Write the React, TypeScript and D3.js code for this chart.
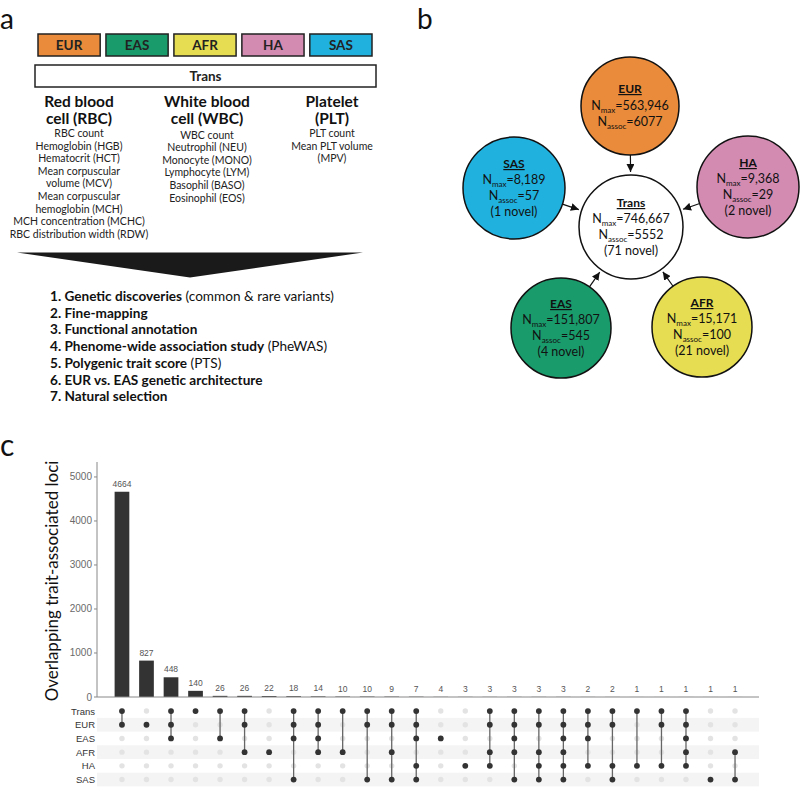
import React from "react";
import * as d3 from "d3";

// ---------- Panel a data ----------
const populations = ["EUR", "EAS", "AFR", "HA", "SAS"];
const populationColors = ["#E98B3A", "#1A9B6C", "#E7DD52", "#D38BB2", "#20B1DF"];
const groupTitles = [
  ["Red blood", "cell (RBC)"],
  ["White blood", "cell (WBC)"],
  ["Platelet", "(PLT)"],
];
const rbcTraits = [
  "RBC count",
  "Hemoglobin (HGB)",
  "Hematocrit (HCT)",
  "Mean corpuscular",
  "volume (MCV)",
  "Mean corpuscular",
  "hemoglobin (MCH)",
  "MCH concentration (MCHC)",
  "RBC distribution width (RDW)",
];
const wbcTraits = [
  "WBC count",
  "Neutrophil (NEU)",
  "Monocyte (MONO)",
  "Lymphocyte (LYM)",
  "Basophil (BASO)",
  "Eosinophil (EOS)",
];
const pltTraits = ["PLT count", "Mean PLT volume", "(MPV)"];
const analysesBold = [
  "1. Genetic discoveries",
  "2. Fine-mapping",
  "3. Functional annotation",
  "4. Phenome-wide association study",
  "5. Polygenic trait score",
  "6. EUR vs. EAS genetic architecture",
  "7. Natural selection",
];
const analysesExtra = [" (common & rare variants)", "", "", " (PheWAS)", " (PTS)", "", ""];

// ---------- Panel b data ----------
const cohortNames = ["EUR", "SAS", "HA", "Trans", "EAS", "AFR"];
const cohortColors = ["#E98B3A", "#20B1DF", "#D38BB2", "#FFFFFF", "#1A9B6C", "#E7DD52"];
const cohortNmax = ["563,946", "8,189", "9,368", "746,667", "151,807", "15,171"];
const cohortNassoc = ["6077", "57", "29", "5552", "545", "100"];
const cohortNovel = ["", "(1 novel)", "(2 novel)", "(71 novel)", "(4 novel)", "(21 novel)"];

// ---------- Panel c data ----------
const sets = ["Trans", "EUR", "EAS", "AFR", "HA", "SAS"];
const intersectionCounts = [4664, 827, 448, 140, 26, 26, 22, 18, 14, 10, 10, 9, 7, 4, 3, 3, 3, 3, 3, 2, 2, 1, 1, 1, 1, 1];
const intersectionMembers = [
  ["Trans", "EUR"],
  ["EUR"],
  ["Trans", "EUR", "EAS"],
  ["Trans"],
  ["Trans", "EAS"],
  ["Trans", "EUR", "AFR"],
  ["AFR"],
  ["Trans", "EUR", "EAS", "SAS"],
  ["Trans", "EUR", "EAS", "AFR"],
  ["Trans", "AFR"],
  ["Trans", "EUR", "SAS"],
  ["Trans", "EUR", "AFR", "SAS"],
  ["Trans", "EUR", "EAS", "HA", "SAS"],
  ["EAS"],
  ["HA"],
  ["Trans", "EUR", "AFR", "HA"],
  ["Trans", "EUR", "EAS", "AFR", "SAS"],
  ["Trans", "EUR", "AFR", "HA", "SAS"],
  ["Trans", "EUR", "EAS", "AFR", "HA", "SAS"],
  ["Trans", "EUR", "EAS", "HA"],
  ["Trans", "EUR", "HA", "SAS"],
  ["Trans", "HA"],
  ["Trans", "EUR", "HA"],
  ["Trans", "EUR", "EAS", "AFR", "HA"],
  ["SAS"],
  ["AFR", "SAS"],
];
const yTicks = [0, 1000, 2000, 3000, 4000, 5000];

const FONT = "Lato, 'Open Sans', sans-serif";
const CFONT = "'Liberation Sans', Arial, sans-serif";

function PanelA() {
  const xBox = d3.scaleBand<string>().domain(populations).range([38, 372]).paddingInner(0.085);
  const groupX = [79, 207, 332];
  const groupLists = [rbcTraits, wbcTraits, pltTraits];
  const lineY = d3.scaleLinear().domain([0, 1]).range([137, 149.6]);
  const listY = d3.scaleLinear().domain([0, 1]).range([301, 317.7]);
  return (
    <g fontFamily={FONT}>
      <text x={0} y={29} fontSize={28} fill="#111">a</text>
      {populations.map((p, i) => (
        <g key={p}>
          <rect x={xBox(p)} y={34} width={xBox.bandwidth()} height={22} fill={populationColors[i]} stroke="#222" strokeWidth={1.5} />
          <text x={(xBox(p) as number) + xBox.bandwidth() / 2} y={50} textAnchor="middle" fontSize={13.5} fontWeight="bold" fill="#222">{p}</text>
        </g>
      ))}
      <rect x={35} y={65} width={341} height={22} fill="#fff" stroke="#222" strokeWidth={1.5} />
      <text x={205.5} y={81} textAnchor="middle" fontSize={13.5} fontWeight="bold" fill="#222">Trans</text>
      {groupTitles.map((t, gi) => (
        <g key={gi}>
          <text x={groupX[gi]} y={107} textAnchor="middle" fontSize={15.5} fontWeight="bold" fill="#111">{t[0]}</text>
          <text x={groupX[gi]} y={124} textAnchor="middle" fontSize={15.5} fontWeight="bold" fill="#111">{t[1]}</text>
          {groupLists[gi].map((s, i) => (
            <text key={i} x={groupX[gi]} y={lineY(i) + (gi === 1 ? 1.5 : 0)} textAnchor="middle" fontSize={10.5} fill="#222">{s}</text>
          ))}
        </g>
      ))}
      <polygon points="17,252.5 363,252.5 190,277.5" fill="#1a1a1a" />
      {analysesBold.map((b, i) => (
        <text key={i} x={50} y={listY(i)} fontSize={13.6} fill="#111">
          <tspan fontWeight="bold">{b}</tspan>
          <tspan>{analysesExtra[i]}</tspan>
        </text>
      ))}
    </g>
  );
}

function PanelB() {
  const centers: [number, number][] = [
    [630, 106],
    [514, 188],
    [748, 187],
    [631, 227],
    [561, 328],
    [702, 327],
  ];
  const radii = [49, 51, 51, 52, 50, 50];
  const trans = centers[3];
  const arrows = [0, 1, 2, 4, 5].map((i) => {
    const [cx, cy] = centers[i];
    const dx = trans[0] - cx;
    const dy = trans[1] - cy;
    const L = Math.sqrt(dx * dx + dy * dy);
    const ux = dx / L, uy = dy / L;
    return {
      x1: cx + ux * radii[i],
      y1: cy + uy * radii[i],
      x2: trans[0] - ux * (radii[3] + 3),
      y2: trans[1] - uy * (radii[3] + 3),
    };
  });
  return (
    <g fontFamily={FONT}>
      <defs>
        <marker id="arrowhead" viewBox="0 0 10 10" refX={10} refY={5} markerWidth={8} markerHeight={8} markerUnits="userSpaceOnUse" orient="auto">
          <path d="M0,0 L10,5 L0,10 Z" fill="#111" />
        </marker>
      </defs>
      <text x={417} y={29} fontSize={28} fill="#111">b</text>
      {arrows.map((a, i) => (
        <line key={i} x1={a.x1} y1={a.y1} x2={a.x2} y2={a.y2} stroke="#111" strokeWidth={1.2} markerEnd="url(#arrowhead)" />
      ))}
      {cohortNames.map((n, i) => {
        const [cx, cy] = centers[i];
        const hasNovel = cohortNovel[i] !== "";
        const base = hasNovel ? [-20, -4, 12, 28] : [-13, 4, 20];
        return (
          <g key={n}>
            <circle cx={cx} cy={cy} r={radii[i]} fill={cohortColors[i]} stroke="#111" strokeWidth={1.5} />
            <text x={cx} y={cy + base[0]} textAnchor="middle" fontSize={12} fontWeight="bold" textDecoration="underline" fill="#111">{n}</text>
            <text x={cx} y={cy + base[1]} textAnchor="middle" fontSize={12.5} fill="#111">
              N<tspan fontSize={8} dy={3}>max</tspan><tspan dy={-3}>={cohortNmax[i]}</tspan>
            </text>
            <text x={cx} y={cy + base[2]} textAnchor="middle" fontSize={12.5} fill="#111">
              N<tspan fontSize={8} dy={3}>assoc</tspan><tspan dy={-3}>={cohortNassoc[i]}</tspan>
            </text>
            {hasNovel && (
              <text x={cx} y={cy + base[3]} textAnchor="middle" fontSize={12.5} fill="#111">{cohortNovel[i]}</text>
            )}
          </g>
        );
      })}
    </g>
  );
}

function PanelC() {
  const ids = intersectionCounts.map((_, i) => String(i));
  const x = d3.scaleBand<string>().domain(ids).range([104.8, 752.2]).padding(0.4);
  const y = d3.scaleLinear().domain([0, 5340]).range([697, 462]);
  const row = d3.scaleBand<string>().domain(sets).range([704.2, 786.4]);
  const cx = (i: number) => (x(String(i)) as number) + x.bandwidth() / 2;
  const cy = (s: string) => (row(s) as number) + row.bandwidth() / 2;
  return (
    <g>
      <text x={0} y={456} fontSize={30} fontFamily={FONT} fill="#111">c</text>
      <text transform={`translate(58,${(462 + 700) / 2}) rotate(-90)`} textAnchor="middle" fontSize={17} fontFamily={FONT} fill="#111">
        Overlapping trait-associated loci
      </text>
      {/* y axis */}
      <line x1={97} x2={97} y1={y.range()[1]} y2={697} stroke="#888" strokeWidth={1} />
      {yTicks.map((t) => (
        <g key={t}>
          <line x1={94} x2={97} y1={y(t)} y2={y(t)} stroke="#888" />
          <text x={92} y={y(t) + 3.5} textAnchor="end" fontSize={10} fontFamily={CFONT} fill="#6a6a6a">{t}</text>
        </g>
      ))}
      {/* bars */}
      {intersectionCounts.map((v, i) => (
        <g key={i}>
          <rect x={x(String(i))} y={y(v)} width={x.bandwidth()} height={697 - y(v)} fill="#333" />
          <text x={cx(i)} y={y(v) - 5} textAnchor="middle" fontSize={8.5} fontFamily={CFONT} fill="#555">{v}</text>
        </g>
      ))}
      <line x1={97} x2={759} y1={697} y2={697} stroke="#888" strokeWidth={1} />
      {/* matrix stripes */}
      {sets.map((s, i) =>
        i % 2 === 1 ? (
          <rect key={s} x={97} y={row(s)} width={662} height={row.bandwidth()} fill="#f4f4f4" />
        ) : null
      )}
      {sets.map((s) => (
        <text key={s} x={95} y={cy(s) + 3.5} textAnchor="end" fontSize={9.5} fontFamily={CFONT} fill="#333">{s}</text>
      ))}
      {intersectionMembers.map((m, i) => (
        <g key={i}>
          {sets.map((s) => (
            <circle key={s} cx={cx(i)} cy={cy(s)} r={2.7} fill="#e3e3e3" />
          ))}
          {m.length > 1 && (
            <line
              x1={cx(i)}
              x2={cx(i)}
              y1={d3.min(m, (s) => cy(s)) as number}
              y2={d3.max(m, (s) => cy(s)) as number}
              stroke="#666"
              strokeWidth={1.3}
            />
          )}
          {m.map((s) => (
            <circle key={s} cx={cx(i)} cy={cy(s)} r={2.9} fill="#333" />
          ))}
        </g>
      ))}
    </g>
  );
}

export default function App() {
  return (
    <svg width={800} height={787} style={{ position: "absolute", left: 0, top: 0, background: "#fff" }}>
      <rect width={800} height={787} fill="#fff" />
      <PanelA />
      <PanelB />
      <PanelC />
    </svg>
  );
}
